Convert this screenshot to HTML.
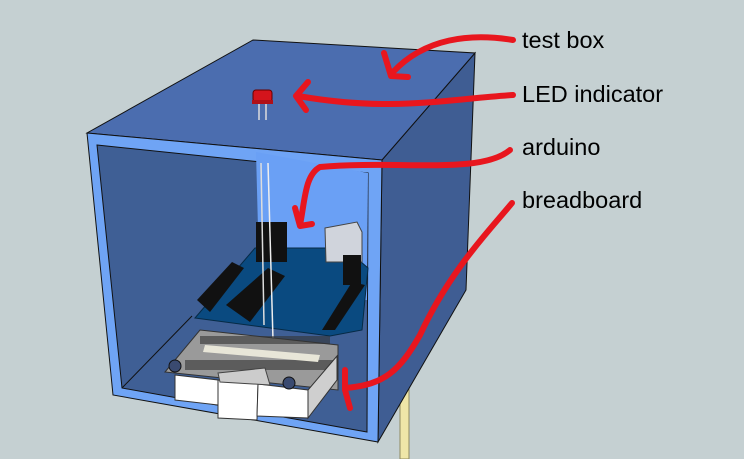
<!DOCTYPE html>
<html><head><meta charset="utf-8"><style>
html,body{margin:0;padding:0;background:#c5d0d2;}
svg{display:block}
text{font-family:"Liberation Sans",sans-serif;font-size:23.5px;fill:#000}
</style></head><body>
<svg width="744" height="459" viewBox="0 0 744 459" xmlns="http://www.w3.org/2000/svg">
<rect width="744" height="459" fill="#c5d0d2"/>
<rect x="400" y="370" width="9" height="89" fill="#efe6a8" stroke="#8f8a60" stroke-width="1"/>
<polygon points="475,53 382,160 378,442 466,290" fill="#3f5d93" stroke="#111" stroke-width="1"/>
<polygon points="253,40 475,53 382,160 87,133" fill="#4b6daf" stroke="#111" stroke-width="1"/>
<polygon points="87,133 382,160 378,442 113,395" fill="#6fa4f5" stroke="#111" stroke-width="1"/>
<polygon points="97,145 368,173 367,432 122,388" fill="#3f5f95" stroke="#111" stroke-width="1"/>
<polygon points="256,152 368,173 367,300 260,305" fill="#6aa0f5"/>
<line x1="192" y1="316" x2="122" y2="388" stroke="#111"/>
<rect x="253" y="90" width="19" height="12" rx="3" fill="#d4141c" stroke="#600" stroke-width="1"/>
<rect x="252" y="100" width="21" height="4" fill="#b01018"/>
<line x1="259" y1="104" x2="259" y2="120" stroke="#ddd" stroke-width="1.5"/>
<line x1="266" y1="104" x2="266" y2="120" stroke="#ddd" stroke-width="1.5"/>
<polygon points="195,318 255,248 345,248 368,268 362,330 330,336" fill="#0a4a80" stroke="#062a45" stroke-width="1"/>
<polygon points="325,228 357,222 362,232 362,262 326,262" fill="#d0d4dc" stroke="#444"/>
<rect x="256" y="222" width="31" height="40" fill="#111"/>
<polygon points="197,300 232,262 244,268 210,312" fill="#111"/>
<polygon points="226,305 268,268 285,276 250,322" fill="#111"/>
<polygon points="322,330 352,282 365,285 335,330" fill="#111"/>
<rect x="343" y="255" width="18" height="30" fill="#111"/>
<line x1="261" y1="163" x2="264" y2="325" stroke="#ddd" stroke-width="1.5"/>
<line x1="268" y1="163" x2="273" y2="340" stroke="#eee" stroke-width="1.5"/>
<polygon points="200,330 338,345 338,390 165,372" fill="#9a9a9a" stroke="#333"/>
<g fill="#333">
<rect x="200" y="336" width="130" height="8" opacity="0.6"/>
<rect x="185" y="360" width="150" height="10" opacity="0.6"/>
</g>
<polygon points="205,345 320,355 318,362 203,352" fill="#e8e6d8"/>
<polygon points="175,375 218,380 218,405 175,400" fill="#fff" stroke="#333"/>
<polygon points="218,380 258,384 257,420 218,418" fill="#fff" stroke="#333"/>
<polygon points="258,384 308,390 308,418 257,416" fill="#fff" stroke="#333"/>
<polygon points="308,390 337,356 337,380 308,418" fill="#cfcfcf" stroke="#333"/>
<polygon points="218,373 265,368 270,385 220,382" fill="#cccccc" stroke="#444"/>
<circle cx="175" cy="366" r="6" fill="#3a4a70" stroke="#111"/>
<circle cx="289" cy="383" r="6" fill="#3a4a70" stroke="#111"/>
<g fill="none" stroke="#e8161e" stroke-width="6" stroke-linecap="round" stroke-linejoin="round">
<path d="M513,40 C470,33 425,38 393,72"/>
<path d="M384,53 L391,76 L408,77"/>
<path d="M513,95 C440,100 390,112 298,96"/>
<path d="M308,82 L296,96 L306,110"/>
<path d="M510,150 C480,175 400,160 320,167 C305,175 305,200 300,225"/>
<path d="M295,208 L300,226 L312,224"/>
<path d="M512,203 C490,230 450,270 420,335 C400,370 385,385 345,388"/>
<path d="M345,370 L345,390 L350,408"/>
</g>
<text x="522" y="48">test box</text>
<text x="522" y="102">LED indicator</text>
<text x="522" y="155">arduino</text>
<text x="522" y="208">breadboard</text>
</svg>
</body></html>
